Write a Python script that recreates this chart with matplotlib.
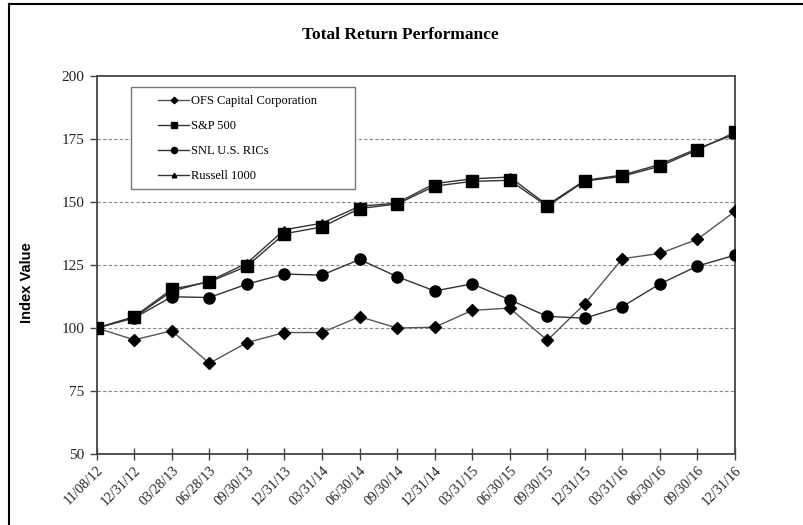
import matplotlib
matplotlib.use("Agg")
import matplotlib.pyplot as plt
from matplotlib.lines import Line2D
from matplotlib.patches import Rectangle

dates = ["11/08/12", "12/31/12", "03/28/13", "06/28/13", "09/30/13", "12/31/13",
         "03/31/14", "06/30/14", "09/30/14", "12/31/14", "03/31/15", "06/30/15",
         "09/30/15", "12/31/15", "03/31/16", "06/30/16", "09/30/16", "12/31/16"]

ofs = [100, 95.3, 98.9, 86.0, 94.2, 98.2, 98.2, 104.5, 100.0, 100.3, 107.0, 107.9,
       95.1, 109.6, 127.5, 129.6, 135.2, 146.3]
sp500 = [100, 104.5, 115.4, 118.3, 124.5, 137.4, 140.1, 147.4, 149.2, 156.3, 158.2, 158.6,
         148.3, 158.3, 160.2, 164.2, 170.7, 177.6]
snl = [100, 104.0, 112.4, 112.1, 117.4, 121.4, 121.0, 127.2, 120.4, 114.7, 117.5, 111.2,
       104.6, 103.9, 108.5, 117.5, 124.6, 128.9]
russell = [100, 104.2, 114.6, 118.6, 125.7, 139.0, 141.6, 148.3, 149.6, 157.3, 159.2, 159.9,
           148.8, 158.6, 160.7, 164.9, 171.2, 176.9]

yticks = [50, 75, 100, 125, 150, 175, 200]

plt.rcParams['font.family'] = ['Liberation Serif', 'DejaVu Serif']

W, H = 804, 525
fig = plt.figure(figsize=(W/100, H/100), dpi=100)
ax = fig.add_axes([96.7/W, 1-454/H, (735-96.7)/W, (454-76)/H])

x = list(range(len(dates)))
ax.plot(x, ofs, color='#555555', lw=1.0, marker='D', ms=6, mfc='black', mec='black',
        label='OFS Capital Corporation', zorder=3)
ax.plot(x, sp500, color='#333333', lw=1.0, marker='s', ms=8.5, mfc='black', mec='black',
        label='S&P 500', zorder=4)
ax.plot(x, snl, color='#333333', lw=1.0, marker='o', ms=8, mfc='black', mec='black',
        label='SNL U.S. RICs', zorder=3)
ax.plot(x, russell, color='#333333', lw=1.0, marker='^', ms=6, mfc='black', mec='black',
        label='Russell 1000', zorder=3)

ax.set_xlim(0, len(dates)-1)
ax.set_ylim(50, 200)
ax.set_yticks(yticks)
ax.set_yticklabels([str(v) for v in yticks], fontsize=11, color='#222222')
ax.set_xticks(x)
ax.set_xticklabels(dates, rotation=45, ha='right', va='top', fontsize=10,
                   rotation_mode='anchor', color='#222222')
ax.tick_params(axis='x', direction='inout', length=8, width=1, color='#444444', pad=3)
ax.tick_params(axis='y', direction='out', length=5, width=1, color='#444444', pad=4)

for v in [75, 100, 125, 150, 175]:
    ax.axhline(v, color='#888888', lw=0.8, ls=(0, (3, 2)), zorder=1)

for s in ax.spines.values():
    s.set_color('#444444')
    s.set_linewidth(1.3)

fig.text(400/W, 1-35/H, 'Total Return Performance', ha='center', va='center',
         fontsize=12.5, fontweight='bold')
fig.text(27/W, 1-283/H, 'Index Value', rotation=90, ha='center', va='center',
         fontsize=10.5, fontweight='bold', family=['Liberation Sans', 'DejaVu Sans'])

# legend frame (drawn within the axes so the legend sits on top)
ax.add_patch(Rectangle((130.7/W, 1-189.3/H), (355-130.7)/W, (189.3-87.3)/H,
                       transform=fig.transFigure, fill=True, facecolor='white',
                       edgecolor='#777777', lw=1.0, zorder=5, clip_on=False))
leg = ax.legend(loc='upper left', bbox_to_anchor=(158/W, 1-95/H),
                bbox_transform=fig.transFigure, fontsize=9, markerscale=0.55,
                frameon=False, handlelength=2.5, handletextpad=0.15,
                labelspacing=1.05, borderpad=0, borderaxespad=0)
leg.set_zorder(6)

# outer frame (cut off at right and bottom)
fig.add_artist(Line2D([9/W, 1.0], [1-4/H, 1-4/H], transform=fig.transFigure,
                      color='black', lw=1.5))
fig.add_artist(Line2D([9/W, 9/W], [0, 1-4/H], transform=fig.transFigure,
                      color='black', lw=1.5))

fig.savefig('out.png', dpi=100)
